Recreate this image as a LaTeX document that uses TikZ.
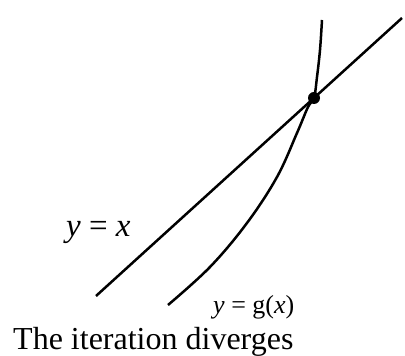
\documentclass[tikz,border=0pt]{standalone}
\usepackage{fontspec}
\setmainfont{Liberation Serif}
\begin{document}
\begin{tikzpicture}[
    x=1pt, y=1pt,
    curve/.style={line width=2.5pt},
    pt/.style={circle, fill=black, minimum size=12pt, inner sep=0pt},
    lbl/.style={anchor=base west, inner sep=0pt}
]
\useasboundingbox (0,0) rectangle (405,356);

% ---- ends of y = x ----
\coordinate (a) at (96,60);
\coordinate (b) at (402,338);

% ---- curves ----
\draw[curve] (a) -- (b);
\draw[curve] plot[smooth, tension=0.6] coordinates
  {(168,51) (210,89) (247,133) (277,179) (297,223) (308,249) (314,258) (317,279) (320,306) (322,336)};

% ---- fixed point ----
\node[pt] (fp) at (314,258) {};

% ---- labels ----
\node[lbl, font=\fontsize{33}{38}\selectfont] (lx) at (66,119) {\textit{y} = \textit{x}};
\node[lbl, font=\fontsize{26}{30}\selectfont] (lg) at (213,42) {\textit{y} = g(\textit{x})};
\node[lbl, font=\fontsize{32}{36}\selectfont] (cap) at (13,6) {The iteration diverges};

\end{tikzpicture}
\end{document}
